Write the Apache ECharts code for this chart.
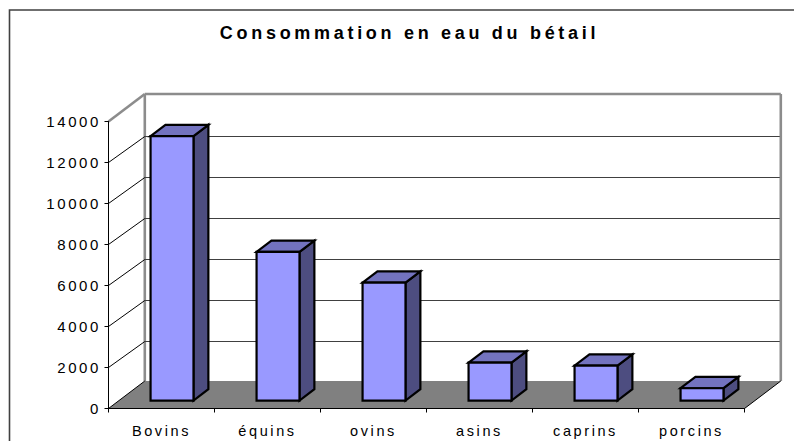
<!DOCTYPE html>
<html><head><meta charset="utf-8">
<style>
html,body{margin:0;padding:0;background:#fff}
#c{width:794px;height:441px}
#c text{letter-spacing:2.6px}
#c text[style*="bold"]{letter-spacing:3.7px}
</style>
<script src="https://cdn.jsdelivr.net/npm/echarts@6/dist/echarts.min.js"></script>
</head><body><div id="c"></div>
<script>
const titleText = 'Consommation en eau du bétail';
const categories = ['Bovins','équins','ovins','asins','caprins','porcins'];
const values = [12900,7250,5750,1850,1700,600];
const yTicks = [0,2000,4000,6000,8000,10000,12000,14000];

const DX = 36.3, DY = 27.5, DY_GRID = 26; // depth of the 3D box
const BAR_NEAR = 0.29, BAR_FAR = 0.70, BAR_W = 0.405;

const chart = echarts.init(document.getElementById('c'), null, {renderer:'svg'});

function line(x1,y1,x2,y2,stroke,w){
  return {type:'line',shape:{x1,y1,x2,y2},style:{stroke,lineWidth:w,fill:null}};
}
function poly(points,fill,stroke,w){
  return {type:'polygon',shape:{points},style:{fill,stroke,lineWidth:w,lineJoin:'miter'}};
}

const font = {fontFamily:'"Liberation Sans",Arial,sans-serif',fontSize:14.5,color:'#000'};

chart.setOption({
  animation:false,
  backgroundColor:'#fff',
  title:{text:titleText,top:24,padding:0,left:409.5,textAlign:'center',
    textStyle:{fontFamily:font.fontFamily,fontSize:18,fontWeight:'bold',color:'#000'}},
  graphic:[{type:'rect',shape:{x:9.5,y:10,width:800,height:450},
    style:{fill:'none',stroke:'#404040',lineWidth:1.6},silent:true,z:-10}],
  grid:{left:108.5,top:121.5,width:636,height:287,containLabel:false},
  xAxis:{type:'category',data:categories,
    axisLine:{show:true,lineStyle:{color:'#000',width:1}},
    axisTick:{show:true,length:4,alignWithLabel:false,lineStyle:{color:'#000'}},
    axisLabel:Object.assign({},font,{margin:15,interval:0}),
    splitLine:{show:false},z:5},
  yAxis:{type:'value',min:0,max:14000,interval:2000,
    axisLine:{show:true,lineStyle:{color:'#000',width:1}},
    axisTick:{show:true,length:4,lineStyle:{color:'#000'}},
    axisLabel:Object.assign({},font,{fontSize:15,margin:7.5,formatter:v=>String(v),verticalAlign:'middle'}),
    splitLine:{show:false},z:5},
  series:[
    { // floor and walls
      type:'custom',coordinateSystem:'cartesian2d',silent:true,z:1,
      data:[0],encode:{x:-1,y:-1},clip:false,
      renderItem(params,api){
        const o=api.coord([0,0]), t=api.coord([0,14000]);
        const y0=o[1], y1=t[1];
        const cs=params.coordSys, x0=cs.x, x1=cs.x+cs.width;
        return {type:'group',children:[
          poly([[x0,y0],[x1,y0],[x1+DX,y0-DY],[x0+DX,y0-DY]],'#808080',null,0),
          line(x0+DX,y0-DY,x0+DX,y1-DY,'#8c8c8c',2.6),
          line(x0+DX,y1-DY,x1+DX,y1-DY,'#8c8c8c',2.6),
          line(x1+DX,y0-DY,x1+DX,y1-DY,'#8c8c8c',2.6),
          line(x0,y1,x0+DX,y1-DY,'#8c8c8c',2.6),
          line(x0,y0,x0+DX,y0-DY,'#000',1),
          line(x1,y0,x1+DX,y0-DY,'#000',1)
        ]};
      }
    },
    { // gridlines on the side and back walls
      type:'custom',coordinateSystem:'cartesian2d',silent:true,z:2,
      data:yTicks.slice(1,-1).map(v=>[0,v]),clip:false,
      renderItem(params,api){
        const y=api.coord([0,api.value(1)])[1];
        const cs=params.coordSys, x0=cs.x, x1=cs.x+cs.width;
        return {type:'group',children:[
          line(x0,y,x0+DX,y-DY_GRID,'#000',1),
          line(x0+DX,y-DY_GRID,x1+DX-1,y-DY_GRID,'#404040',1)
        ]};
      }
    },
    { // 3D bars
      type:'custom',coordinateSystem:'cartesian2d',silent:true,z:3,
      data:values.map((v,i)=>[i,v]),clip:false,
      renderItem(params,api){
        const i=api.value(0), v=api.value(1);
        const top=api.coord([i,v]), base=api.coord([i,0]);
        const w=api.size([1,0])[0]*BAR_W;
        const nx=DX*BAR_NEAR, ny=DY*BAR_NEAR, d=(BAR_FAR-BAR_NEAR);
        const bx=DX*d, by=DY*d;
        const l=top[0]-w/2+nx, r=top[0]+w/2+nx;
        const yt=top[1]-ny, yb=base[1]-ny;
        return {type:'group',children:[
          poly([[r,yt],[r+bx,yt-by],[r+bx,yb-by],[r,yb]],'#4D4D80','#000',2.2),
          poly([[l,yt],[r,yt],[r+bx,yt-by],[l+bx,yt-by]],'#7373BF','#000',2.2),
          poly([[l,yt],[r,yt],[r,yb],[l,yb]],'#9999FF','#000',2.2)
        ]};
      }
    }
  ]
});
</script></body></html>
